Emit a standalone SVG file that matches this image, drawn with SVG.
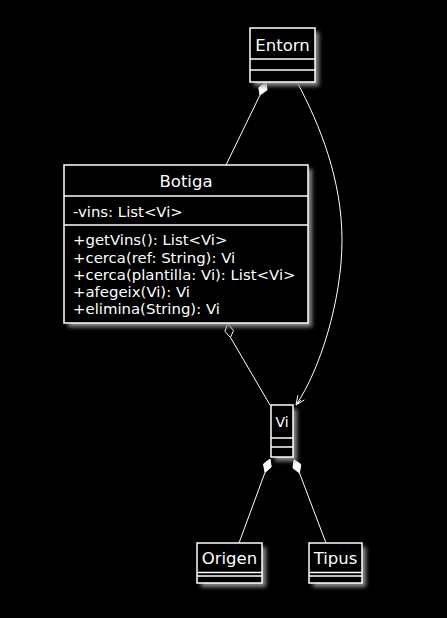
<svg xmlns="http://www.w3.org/2000/svg" width="447" height="618" viewBox="0 0 447 618">
<defs>
<filter id="sh" x="-20%" y="-20%" width="150%" height="150%">
<feGaussianBlur stdDeviation="2"/>
</filter>
<style>
.box{fill:#000;stroke:#fff;stroke-width:1.5}
.shadow{fill:#8a8a8a;filter:url(#sh)}
.div{stroke:#fff;stroke-width:1.5}
.t{font-family:"DejaVu Sans",sans-serif;fill:#fff;font-size:16.5px;text-anchor:middle}
.m{font-family:"DejaVu Sans",sans-serif;fill:#fff;font-size:14.9px}
.ln{fill:none;stroke:#fff;stroke-width:1}
.fd{fill:#fff;stroke:#fff;stroke-width:1}
.od{fill:#000;stroke:#fff;stroke-width:1}
</style>
</defs>
<rect width="447" height="618" fill="#000"/>
<g id="connectors">
<polygon class="fd" points="266,82 267,90 260,95 258.8,87.5"/>
<line class="ln" x1="260" y1="95" x2="226" y2="165"/>
<polygon class="od" points="227.5,323.5 233.5,330.5 230.5,337.5 225,331.5"/>
<line class="ln" x1="230.5" y1="337.5" x2="270" y2="405"/>
<path class="ln" d="M297,82 C320,125 342,180 342,240 C342,300 320,370 296,405"/>
<polyline class="ln" points="304.4,399.9 296,405 297.8,395.3"/>
<line class="ln" x1="296" y1="405" x2="301" y2="400"/>
<polygon class="fd" points="270,459 271.2,467 265,472.5 263.5,464"/>
<line class="ln" x1="265" y1="472.5" x2="239" y2="543"/>
<polygon class="fd" points="294,459.5 300.7,464.3 299.5,473 293,468"/>
<line class="ln" x1="299.5" y1="473" x2="326" y2="543"/>
</g>
<g id="Entorn">
<rect class="shadow" x="254" y="32" width="65" height="54"/>
<rect class="box" x="250" y="28" width="65" height="54"/>
<text class="t" x="282.5" y="51">Entorn</text>
<line class="div" x1="250" y1="59" x2="315" y2="59"/>
<line class="div" x1="250" y1="70" x2="315" y2="70"/>
</g>
<g id="Botiga">
<rect class="shadow" x="68" y="169" width="244" height="158"/>
<rect class="box" x="64" y="165" width="244" height="158"/>
<text class="t" x="186" y="187">Botiga</text>
<line class="div" x1="64" y1="196" x2="308" y2="196"/>
<text class="m" x="73" y="217">-vins: List&lt;Vi&gt;</text>
<line class="div" x1="64" y1="225" x2="308" y2="225"/>
<text class="m" x="73" y="245">+getVins(): List&lt;Vi&gt;</text>
<text class="m" x="73" y="262.5">+cerca(ref: String): Vi</text>
<text class="m" x="73" y="280">+cerca(plantilla: Vi): List&lt;Vi&gt;</text>
<text class="m" x="73" y="297">+afegeix(Vi): Vi</text>
<text class="m" x="73" y="314">+elimina(String): Vi</text>
</g>
<g id="Vi">
<rect class="shadow" x="275" y="409" width="22" height="52"/>
<rect class="box" x="271" y="405" width="22" height="52"/>
<text class="t" x="282" y="427" style="font-size:14px">Vi</text>
<line class="div" x1="271" y1="438" x2="293" y2="438"/>
<line class="div" x1="271" y1="447" x2="293" y2="447"/>
</g>
<g id="Origen">
<rect class="shadow" x="201" y="547" width="65" height="40"/>
<rect class="box" x="197" y="543" width="65" height="40"/>
<text class="t" x="229.5" y="564">Origen</text>
<line class="div" x1="197" y1="572.5" x2="262" y2="572.5"/>
<line class="div" x1="197" y1="576" x2="262" y2="576"/>
</g>
<g id="Tipus">
<rect class="shadow" x="313" y="547" width="53" height="40"/>
<rect class="box" x="309" y="543" width="53" height="40"/>
<text class="t" x="335.5" y="564">Tipus</text>
<line class="div" x1="309" y1="572.5" x2="362" y2="572.5"/>
<line class="div" x1="309" y1="576" x2="362" y2="576"/>
</g>
</svg>
